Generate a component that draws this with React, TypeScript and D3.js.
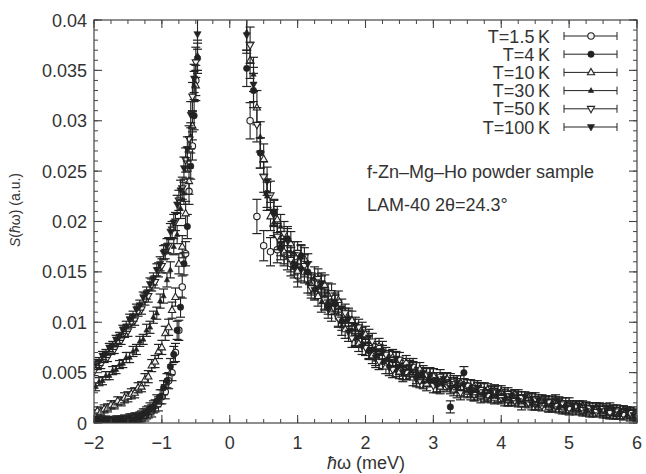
import React from 'react';
import * as d3 from 'd3';

// ---------- data ----------
const xTicks = [-2, -1, 0, 1, 2, 3, 4, 5, 6];
const xTickLabels = ['\u22122', '\u22121', '0', '1', '2', '3', '4', '5', '6'];
const yTicks = [0, 0.005, 0.01, 0.015, 0.02, 0.025, 0.03, 0.035, 0.04];
const yTickLabels = ['0', '0.005', '0.01', '0.015', '0.02', '0.025', '0.03', '0.035', '0.04'];

const eNegA = [-2.0, -1.95, -1.9, -1.85, -1.8, -1.75, -1.7, -1.65, -1.6, -1.55, -1.5, -1.45, -1.4, -1.35, -1.3, -1.25, -1.2, -1.15, -1.1, -1.05, -1.0, -0.95, -0.9, -0.85, -0.8, -0.75, -0.7, -0.65, -0.6, -0.55, -0.5];
const eNegB = [-1.975, -1.925, -1.875, -1.825, -1.775, -1.725, -1.675, -1.625, -1.575, -1.525, -1.475, -1.425, -1.375, -1.325, -1.275, -1.225, -1.175, -1.125, -1.075, -1.025, -0.975, -0.925, -0.875, -0.825, -0.775, -0.725, -0.675, -0.625, -0.575, -0.525, -0.475];
const ePosA = [0.3, 0.4, 0.5, 0.6, 0.7, 0.8, 0.9, 1.0, 1.1, 1.2, 1.3, 1.4, 1.5, 1.6, 1.7, 1.8, 1.9, 2.0, 2.1, 2.2, 2.3, 2.4, 2.5, 2.6, 2.7, 2.8, 2.9, 3.0, 3.1, 3.2, 3.3, 3.4, 3.5, 3.6, 3.7, 3.8, 3.9, 4.0, 4.1, 4.2, 4.3, 4.4, 4.5, 4.6, 4.7, 4.8, 4.9, 5.0, 5.1, 5.2, 5.3, 5.4, 5.5, 5.6, 5.7, 5.8, 5.9, 6.0];
const ePosB = [0.25, 0.35, 0.45, 0.55, 0.65, 0.75, 0.85, 0.95, 1.05, 1.15, 1.25, 1.35, 1.45, 1.55, 1.65, 1.75, 1.85, 1.95, 2.05, 2.15, 2.25, 2.35, 2.45, 2.55, 2.65, 2.75, 2.85, 2.95, 3.05, 3.15, 3.25, 3.35, 3.45, 3.55, 3.65, 3.75, 3.85, 3.95, 4.05, 4.15, 4.25, 4.35, 4.45, 4.55, 4.65, 4.75, 4.85, 4.95, 5.05, 5.15, 5.25, 5.35, 5.45, 5.55, 5.65, 5.75, 5.85, 5.95];

const errNeg = [0.0004, 0.0004, 0.0004, 0.0004, 0.0004, 0.0004, 0.0004, 0.0004, 0.0004, 0.0005, 0.0005, 0.0005, 0.0005, 0.0005, 0.0005, 0.0006, 0.0006, 0.0006, 0.0006, 0.0007, 0.0007, 0.0007, 0.0008, 0.0008, 0.0009, 0.0010, 0.0011, 0.0012, 0.0013, 0.0014, 0.0015];
const errPos = [0.0018, 0.0017, 0.0015, 0.0014, 0.0013, 0.0012, 0.0012, 0.0011, 0.0011, 0.0010, 0.0010, 0.0010, 0.0009, 0.0009, 0.0009, 0.0009, 0.0008, 0.0008, 0.0008, 0.0008, 0.0007, 0.0008, 0.0007, 0.0007, 0.0008, 0.0007, 0.0007, 0.0007, 0.0007, 0.0006, 0.0006, 0.0007, 0.0006, 0.0006, 0.0007, 0.0006, 0.0006, 0.0006, 0.0006, 0.0005, 0.0006, 0.0005, 0.0006, 0.0005, 0.0005, 0.0006, 0.0005, 0.0006, 0.0005, 0.0005, 0.0005, 0.0005, 0.0005, 0.0006, 0.0005, 0.0005, 0.0005, 0.0005];

// T = 1.5 K
const t15Neg = [0.0002, 0.0001, 0.0003, 0.0001, 0.0002, 0.0002, 0.0001, 0.0003, 0.0002, 0.0003, 0.0002, 0.0004, 0.0005, 0.0004, 0.0007, 0.0008, 0.0011, 0.0012, 0.0017, 0.0019, 0.0026, 0.0031, 0.0042, 0.0050, 0.0070, 0.0092, 0.0135, 0.0168, 0.0230, 0.0275, 0.0340];
const t15Pos = [0.0300, 0.0205, 0.0176, 0.0170, 0.0172, 0.0168, 0.0158, 0.0146, 0.0150, 0.0139, 0.0138, 0.0123, 0.0120, 0.0105, 0.0105, 0.0094, 0.0083, 0.0083, 0.0071, 0.0070, 0.0061, 0.0063, 0.0055, 0.0050, 0.0053, 0.0048, 0.0043, 0.0047, 0.0038, 0.0039, 0.0039, 0.0034, 0.0037, 0.0028, 0.0032, 0.0028, 0.0030, 0.0027, 0.0023, 0.0028, 0.0022, 0.0024, 0.0019, 0.0021, 0.0016, 0.0022, 0.0016, 0.0016, 0.0017, 0.0012, 0.0015, 0.0015, 0.0011, 0.0011, 0.0009, 0.0012, 0.0010, 0.0007];
// T = 4 K
const t4Neg = [0.0002, 0.0002, 0.0001, 0.0003, 0.0002, 0.0001, 0.0003, 0.0002, 0.0003, 0.0002, 0.0004, 0.0003, 0.0005, 0.0006, 0.0009, 0.0010, 0.0014, 0.0016, 0.0022, 0.0026, 0.0035, 0.0042, 0.0056, 0.0068, 0.0092, 0.0115, 0.0158, 0.0195, 0.0255, 0.0305, 0.0362];
const t4Pos = [0.0352, 0.0330, 0.0268, 0.0228, 0.0208, 0.0174, 0.0183, 0.0155, 0.0166, 0.0150, 0.0133, 0.0136, 0.0117, 0.0118, 0.0101, 0.0103, 0.0085, 0.0087, 0.0072, 0.0073, 0.0061, 0.0064, 0.0053, 0.0057, 0.0052, 0.0046, 0.0047, 0.0043, 0.0043, 0.0039, 0.0016, 0.0037, 0.0050, 0.0032, 0.0033, 0.0029, 0.0030, 0.0027, 0.0027, 0.0024, 0.0025, 0.0022, 0.0023, 0.0020, 0.0021, 0.0018, 0.0019, 0.0016, 0.0017, 0.0014, 0.0015, 0.0012, 0.0014, 0.0011, 0.0012, 0.0009, 0.0011, 0.0008];
// T = 10 K
const t10Neg = [0.0009, 0.0012, 0.0011, 0.0014, 0.0015, 0.0018, 0.0018, 0.0022, 0.0021, 0.0025, 0.0026, 0.0029, 0.0030, 0.0035, 0.0036, 0.0043, 0.0046, 0.0057, 0.0061, 0.0071, 0.0075, 0.0089, 0.0095, 0.0112, 0.0125, 0.0158, 0.0175, 0.0208, 0.0240, 0.0295, 0.0335];
const t10Pos = [0.0360, 0.0313, 0.0262, 0.0205, 0.0202, 0.0170, 0.0178, 0.0151, 0.0163, 0.0137, 0.0126, 0.0137, 0.0110, 0.0122, 0.0093, 0.0102, 0.0079, 0.0088, 0.0067, 0.0076, 0.0056, 0.0065, 0.0051, 0.0060, 0.0045, 0.0053, 0.0039, 0.0047, 0.0036, 0.0044, 0.0033, 0.0040, 0.0031, 0.0036, 0.0027, 0.0033, 0.0025, 0.0031, 0.0023, 0.0028, 0.0019, 0.0025, 0.0019, 0.0023, 0.0016, 0.0020, 0.0014, 0.0019, 0.0013, 0.0017, 0.0011, 0.0015, 0.0010, 0.0014, 0.0009, 0.0012, 0.0007, 0.0009];
// T = 30 K
const t30Neg = [0.0036, 0.0041, 0.0042, 0.0047, 0.0047, 0.0052, 0.0053, 0.0058, 0.0059, 0.0065, 0.0065, 0.0071, 0.0073, 0.0081, 0.0083, 0.0092, 0.0095, 0.0105, 0.0109, 0.0121, 0.0126, 0.0142, 0.0152, 0.0175, 0.0187, 0.0213, 0.0228, 0.0262, 0.0285, 0.0335, 0.0365];
const t30Pos = [0.0388, 0.0346, 0.0284, 0.0225, 0.0199, 0.0195, 0.0164, 0.0169, 0.0165, 0.0139, 0.0145, 0.0120, 0.0130, 0.0118, 0.0096, 0.0105, 0.0084, 0.0092, 0.0071, 0.0063, 0.0074, 0.0057, 0.0063, 0.0048, 0.0054, 0.0053, 0.0041, 0.0048, 0.0038, 0.0043, 0.0043, 0.0032, 0.0032, 0.0037, 0.0030, 0.0034, 0.0026, 0.0026, 0.0029, 0.0022, 0.0027, 0.0021, 0.0024, 0.0018, 0.0022, 0.0021, 0.0015, 0.0019, 0.0014, 0.0016, 0.0016, 0.0011, 0.0015, 0.0011, 0.0009, 0.0012, 0.0009, 0.0011];
// T = 50 K
const t50Neg = [0.0051, 0.0057, 0.0058, 0.0064, 0.0065, 0.0072, 0.0073, 0.0080, 0.0082, 0.0090, 0.0091, 0.0100, 0.0102, 0.0111, 0.0113, 0.0123, 0.0126, 0.0137, 0.0140, 0.0152, 0.0156, 0.0170, 0.0176, 0.0192, 0.0200, 0.0221, 0.0233, 0.0261, 0.0282, 0.0324, 0.0358];
const t50Pos = [0.0375, 0.0296, 0.0244, 0.0226, 0.0185, 0.0188, 0.0162, 0.0169, 0.0156, 0.0134, 0.0143, 0.0122, 0.0129, 0.0104, 0.0109, 0.0084, 0.0095, 0.0075, 0.0081, 0.0061, 0.0068, 0.0053, 0.0063, 0.0050, 0.0056, 0.0042, 0.0048, 0.0037, 0.0046, 0.0037, 0.0041, 0.0030, 0.0037, 0.0028, 0.0033, 0.0027, 0.0032, 0.0025, 0.0029, 0.0022, 0.0025, 0.0020, 0.0024, 0.0017, 0.0021, 0.0017, 0.0020, 0.0014, 0.0017, 0.0013, 0.0015, 0.0011, 0.0014, 0.0010, 0.0013, 0.0008, 0.0010, 0.0007];
// T = 100 K
const t100Neg = [0.0059, 0.0061, 0.0067, 0.0069, 0.0075, 0.0077, 0.0083, 0.0086, 0.0093, 0.0096, 0.0103, 0.0106, 0.0113, 0.0117, 0.0125, 0.0129, 0.0138, 0.0143, 0.0152, 0.0158, 0.0169, 0.0176, 0.0190, 0.0199, 0.0217, 0.0231, 0.0253, 0.0272, 0.0306, 0.0342, 0.0386];
const t100Pos = [0.0385, 0.0336, 0.0268, 0.0240, 0.0209, 0.0178, 0.0181, 0.0158, 0.0152, 0.0158, 0.0132, 0.0139, 0.0113, 0.0120, 0.0114, 0.0090, 0.0097, 0.0076, 0.0085, 0.0065, 0.0070, 0.0055, 0.0064, 0.0050, 0.0056, 0.0043, 0.0050, 0.0047, 0.0037, 0.0044, 0.0035, 0.0040, 0.0038, 0.0029, 0.0035, 0.0027, 0.0031, 0.0031, 0.0023, 0.0027, 0.0022, 0.0026, 0.0019, 0.0023, 0.0022, 0.0017, 0.0021, 0.0015, 0.0017, 0.0017, 0.0012, 0.0015, 0.0012, 0.0013, 0.0013, 0.0009, 0.0011, 0.0008];

const seriesLabels = ['T=1.5\u2009K', 'T=4\u2009K', 'T=10\u2009K', 'T=30\u2009K', 'T=50\u2009K', 'T=100\u2009K'];
const seriesMarkers = ['circleOpen', 'circleFilled', 'triOpen', 'triSmall', 'invOpen', 'invFilled'];
const seriesNeg = [[eNegA, t15Neg], [eNegB, t4Neg], [eNegA, t10Neg], [eNegB, t30Neg], [eNegA, t50Neg], [eNegB, t100Neg]];
const seriesPos = [[ePosA, t15Pos], [ePosB, t4Pos], [ePosA, t10Pos], [ePosB, t30Pos], [ePosA, t50Pos], [ePosB, t100Pos]];

const annotation1 = 'f-Zn\u2013Mg\u2013Ho powder sample';
const annotation2 = 'LAM-40 2\u03b8=24.3\u00b0';

// ---------- drawing ----------
const INK = '#222';
const FONT = '"Liberation Sans", Arial, Helvetica, sans-serif';

function Marker({ type, cx, cy }: { type: string; cx: number; cy: number }) {
  const tri = (h: number, inv: boolean) =>
    inv
      ? `M${cx},${cy + h} L${cx + h * 0.9},${cy - h * 0.6} L${cx - h * 0.9},${cy - h * 0.6} Z`
      : `M${cx},${cy - h} L${cx + h * 0.9},${cy + h * 0.6} L${cx - h * 0.9},${cy + h * 0.6} Z`;
  switch (type) {
    case 'circleOpen':
      return <circle cx={cx} cy={cy} r={3.2} fill="#f4f4f4" stroke={INK} strokeWidth={1.1} />;
    case 'circleFilled':
      return <circle cx={cx} cy={cy} r={3.2} fill={INK} stroke={INK} strokeWidth={0.6} />;
    case 'triOpen':
      return <path d={tri(4, false)} fill="#f4f4f4" stroke={INK} strokeWidth={1.1} />;
    case 'triSmall':
      return <path d={tri(3, false)} fill={INK} stroke={INK} strokeWidth={0.6} />;
    case 'invOpen':
      return <path d={tri(4, true)} fill="#f4f4f4" stroke={INK} strokeWidth={1.1} />;
    default:
      return <path d={tri(4, true)} fill={INK} stroke={INK} strokeWidth={0.6} />;
  }
}

export default function App() {
  const x = d3.scaleLinear().domain([-2, 6]).range([94, 637]);
  const y = d3.scaleLinear().domain([0, 0.04]).range([423, 20]);
  const [x0, x1] = x.range();
  const [y0, y1] = y.range();

  const xMinor = d3.range(-2, 6.0001, 0.25);
  const yMinor = d3.range(0, 0.04001, 0.001);

  const cap = 4.5;

  const points = seriesLabels.map((_, si) => {
    const out: { e: number; s: number; err: number }[] = [];
    const [en, vn] = seriesNeg[si];
    en.forEach((e, i) => { if (vn[i] !== undefined) out.push({ e, s: vn[i], err: errNeg[i] }); });
    const [ep, vp] = seriesPos[si];
    ep.forEach((e, i) => { if (vp[i] !== undefined) out.push({ e, s: vp[i], err: errPos[i] }); });
    return out;
  });

  const legendX = 550;
  const legendY0 = 36;
  const legendDy = 18.2;

  return (
    <svg width={646} height={474} style={{ position: 'absolute', left: 0, top: 0, background: '#fff' }}
      fontFamily={FONT}>
      <defs>
        <clipPath id="plotClip">
          <rect x={x0} y={y1} width={x1 - x0} height={y0 - y1} />
        </clipPath>
      </defs>
      <rect x={0} y={0} width={646} height={474} fill="#fff" />

      {/* data */}
      <g clipPath="url(#plotClip)">
        {points.map((pts, si) => (
          <g key={si}>
            {pts.map((p, i) => {
              const cx = x(p.e);
              const cy = y(p.s);
              const yt = y(p.s + p.err);
              const yb = y(Math.max(0, p.s - p.err));
              return (
                <g key={i}>
                  <line x1={cx} x2={cx} y1={yt} y2={yb} stroke={INK} strokeWidth={1.1} />
                  <line x1={cx - cap} x2={cx + cap} y1={yt} y2={yt} stroke={INK} strokeWidth={1.2} />
                  <line x1={cx - cap} x2={cx + cap} y1={yb} y2={yb} stroke={INK} strokeWidth={1.2} />
                  <Marker type={seriesMarkers[si]} cx={cx} cy={cy} />
                </g>
              );
            })}
          </g>
        ))}
      </g>

      {/* frame */}
      <rect x={x0} y={y1} width={x1 - x0} height={y0 - y1} fill="none" stroke="#444" strokeWidth={1.2} />

      {/* x ticks */}
      {xMinor.map((v, i) => (
        <g key={'xm' + i}>
          <line x1={x(v)} x2={x(v)} y1={y0} y2={y0 - 4} stroke="#444" strokeWidth={1} />
          <line x1={x(v)} x2={x(v)} y1={y1} y2={y1 + 4} stroke="#444" strokeWidth={1} />
        </g>
      ))}
      {xTicks.map((v, i) => (
        <g key={'xt' + i}>
          <line x1={x(v)} x2={x(v)} y1={y0} y2={y0 - 8} stroke="#444" strokeWidth={1.1} />
          <line x1={x(v)} x2={x(v)} y1={y1} y2={y1 + 8} stroke="#444" strokeWidth={1.1} />
          <text x={x(v)} y={449} textAnchor="middle" fontSize={18} fill="#333">{xTickLabels[i]}</text>
        </g>
      ))}

      {/* y ticks */}
      {yMinor.map((v, i) => (
        <g key={'ym' + i}>
          <line x1={x0} x2={x0 + 4} y1={y(v)} y2={y(v)} stroke="#444" strokeWidth={1} />
          <line x1={x1} x2={x1 - 4} y1={y(v)} y2={y(v)} stroke="#444" strokeWidth={1} />
        </g>
      ))}
      {yTicks.map((v, i) => (
        <g key={'yt' + i}>
          <line x1={x0} x2={x0 + 8} y1={y(v)} y2={y(v)} stroke="#444" strokeWidth={1.1} />
          <line x1={x1} x2={x1 - 8} y1={y(v)} y2={y(v)} stroke="#444" strokeWidth={1.1} />
          <text x={87} y={y(v) + 6.5} textAnchor="end" fontSize={18} fill="#333">{yTickLabels[i]}</text>
        </g>
      ))}

      {/* axis labels */}
      <text x={366} y={469} textAnchor="middle" fontSize={18} fill="#333">
        <tspan fontStyle="italic">ħ</tspan>ω (meV)
      </text>
      <text transform="translate(20,210) rotate(-90)" textAnchor="middle" fontSize={14} fill="#333">
        <tspan fontStyle="italic">S</tspan>(<tspan fontStyle="italic">ħ</tspan>ω) (a.u.)
      </text>

      {/* legend */}
      {seriesLabels.map((lab, i) => {
        const ly = legendY0 + i * legendDy;
        return (
          <g key={'lg' + i}>
            <text x={legendX} y={ly + 6.5} textAnchor="end" fontSize={18} fill="#333">{lab}</text>
            <line x1={564} x2={617} y1={ly} y2={ly} stroke={INK} strokeWidth={1} />
            <line x1={564} x2={564} y1={ly - 4} y2={ly + 4} stroke={INK} strokeWidth={1} />
            <line x1={617} x2={617} y1={ly - 4} y2={ly + 4} stroke={INK} strokeWidth={1} />
            <Marker type={seriesMarkers[i]} cx={591} cy={ly} />
          </g>
        );
      })}

      {/* annotation */}
      <text x={367} y={178} fontSize={18} fill="#333">{annotation1}</text>
      <text x={367} y={211} fontSize={18} fill="#333">{annotation2}</text>
    </svg>
  );
}
